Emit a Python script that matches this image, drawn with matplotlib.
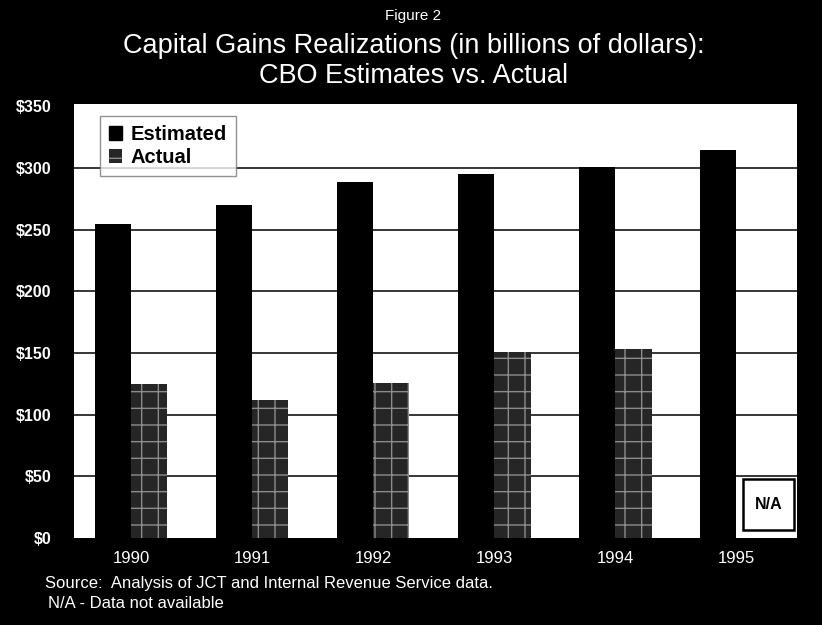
import matplotlib
matplotlib.use("Agg")
import matplotlib.pyplot as plt
from matplotlib.patches import Patch, Rectangle
import numpy as np

years = ["1990", "1991", "1992", "1993", "1994", "1995"]
estimated = [255, 270, 289, 295, 301, 315]
actual = [125, 112, 126, 151, 153]          # 1995 not yet available
y_ticks = [0, 50, 100, 150, 200, 250, 300, 350]
y_tick_labels = ["$0", "$50", "$100", "$150", "$200", "$250", "$300", "$350"]

plt.rcParams["font.family"] = ["Liberation Sans", "DejaVu Sans"]

fig = plt.figure(figsize=(8.22, 6.25), dpi=100, facecolor="black")
ax = fig.add_axes([0.090, 0.139, 0.8796, 0.6946])
ax.set_facecolor("white")

actual_face = "#262626"
actual_hatch = "#8c8c8c"

x = np.arange(len(years))
w = 0.30
ax.bar(x - w / 2, estimated, width=w, color="black", zorder=3)
ax.bar(x[:len(actual)] + w / 2, actual, width=w, facecolor=actual_face,
       edgecolor=actual_hatch, linewidth=0, hatch="+", zorder=3)

ax.set_xlim(-0.47, 5.5)
ax.set_ylim(0, 352)
for v in y_ticks[1:-1]:
    ax.axhline(v, color="black", linewidth=1.1, zorder=1)

ax.set_yticks(y_ticks)
ax.set_yticklabels(y_tick_labels, color="white", fontsize=11.5, fontweight="bold")
ax.tick_params(axis="y", length=0, pad=16)
ax.set_xticks(x)
ax.set_xticklabels(years, color="white", fontsize=12)
ax.tick_params(axis="x", length=0, pad=9)
for s in ax.spines.values():
    s.set_visible(False)

# N/A marker for the missing 1995 actual value
ax.add_patch(Rectangle((5.058, 6.5), 0.42, 41.4, facecolor="white",
                       edgecolor="black", linewidth=1.8, zorder=4))
ax.text(5.268, 27.2, "N/A", ha="center", va="center", fontsize=11.5,
        fontweight="bold", zorder=5)

handles = [Patch(facecolor="black", edgecolor="black"),
           Patch(facecolor=actual_face, edgecolor=actual_hatch, linewidth=0,
                 hatch="+")]
leg = ax.legend(handles, ["Estimated", "Actual"], loc="upper left",
                bbox_to_anchor=(0.036, 0.972), frameon=True, fancybox=False,
                prop=dict(weight="bold", size=14.5), handlelength=0.65,
                handleheight=0.65, handletextpad=0.4, labelspacing=0.2,
                borderpad=0.45, borderaxespad=0)
leg.get_frame().set_edgecolor("#777777")
leg.get_frame().set_linewidth(1.0)
leg.set_zorder(6)

fig.text(0.503, 0.975, "Figure 2", ha="center", va="center", color="white",
         fontsize=11)
fig.text(0.503, 0.926, "Capital Gains Realizations (in billions of dollars):",
         ha="center", va="center", color="white", fontsize=19.5)
fig.text(0.503, 0.878, "CBO Estimates vs. Actual", ha="center", va="center",
         color="white", fontsize=19.5)

fig.text(0.055, 0.067, "Source:  Analysis of JCT and Internal Revenue Service data.",
         ha="left", va="center", color="white", fontsize=12)
fig.text(0.058, 0.035, "N/A - Data not available", ha="left", va="center",
         color="white", fontsize=12)

fig.savefig("out.png", dpi=100, facecolor="black")
